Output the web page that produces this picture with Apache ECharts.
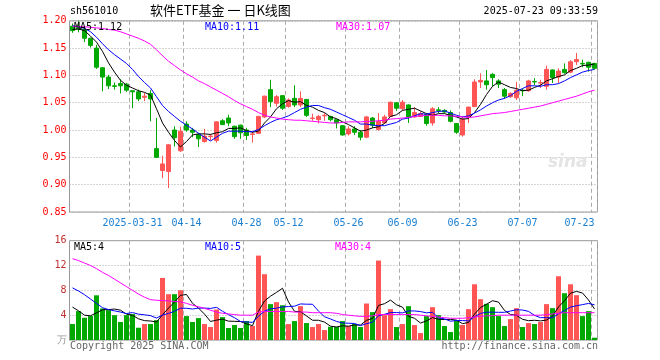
<!DOCTYPE html>
<html>
<head>
<meta charset="utf-8">
<script src="https://cdn.jsdelivr.net/npm/echarts@6/dist/echarts.min.js"></script>
<style>
html,body{margin:0;padding:0;background:#fff;}
#c{width:660px;height:360px;}
</style>
</head>
<body>
<div id="c"></div>
<script>
const dates = [
'2025-03-17','2025-03-18','2025-03-19','2025-03-20','2025-03-21','2025-03-24','2025-03-25','2025-03-26','2025-03-27','2025-03-28',
'2025-03-31','2025-04-01','2025-04-02','2025-04-03','2025-04-07','2025-04-08','2025-04-09','2025-04-10','2025-04-11','2025-04-14',
'2025-04-15','2025-04-16','2025-04-17','2025-04-18','2025-04-21','2025-04-22','2025-04-23','2025-04-24','2025-04-25','2025-04-28',
'2025-04-29','2025-04-30','2025-05-06','2025-05-07','2025-05-08','2025-05-09','2025-05-12','2025-05-13','2025-05-14','2025-05-15',
'2025-05-16','2025-05-19','2025-05-20','2025-05-21','2025-05-22','2025-05-23','2025-05-26','2025-05-27','2025-05-28','2025-05-29',
'2025-05-30','2025-06-03','2025-06-04','2025-06-05','2025-06-06','2025-06-09','2025-06-10','2025-06-11','2025-06-12','2025-06-13',
'2025-06-16','2025-06-17','2025-06-18','2025-06-19','2025-06-20','2025-06-23','2025-06-24','2025-06-25','2025-06-26','2025-06-27',
'2025-06-30','2025-07-01','2025-07-02','2025-07-03','2025-07-04','2025-07-07','2025-07-08','2025-07-09','2025-07-10','2025-07-11',
'2025-07-14','2025-07-15','2025-07-16','2025-07-17','2025-07-18','2025-07-21','2025-07-22','2025-07-23'];

const labelDates = ['2025-03-31','2025-04-14','2025-04-28','2025-05-12','2025-05-26','2025-06-09','2025-06-23','2025-07-07','2025-07-23'];

const open = [
1.190,1.188,1.184,1.168,1.150,1.114,1.097,1.081,1.085,1.084,
1.072,1.070,1.060,1.067,0.966,0.926,0.924,1.000,0.962,1.011,
1.000,0.992,0.979,0.988,0.981,1.017,1.022,1.007,1.009,1.000,
0.992,0.994,1.024,1.074,1.049,1.063,1.043,1.058,1.046,1.056,
1.021,1.019,1.026,1.025,1.019,1.008,0.993,1.002,0.996,0.987,
1.022,1.001,1.013,1.025,1.050,1.039,1.046,1.024,1.025,1.029,
1.013,1.037,1.036,1.032,1.012,0.991,1.024,1.043,1.088,1.090,
1.102,1.090,1.074,1.061,1.059,1.073,1.072,1.089,1.086,1.080,
1.110,1.097,1.111,1.106,1.125,1.122,1.124,1.122];
const close = [
1.182,1.185,1.168,1.155,1.115,1.097,1.081,1.080,1.081,1.073,
1.070,1.057,1.062,1.057,0.950,0.938,0.973,0.986,0.998,1.000,
0.996,0.984,0.989,0.989,1.015,1.010,1.013,0.988,0.995,0.990,
0.993,1.025,1.062,1.052,1.061,1.040,1.055,1.046,1.058,1.027,
1.022,1.025,1.027,1.019,1.013,0.991,1.002,0.996,0.987,1.024,
1.009,1.016,1.024,1.051,1.040,1.051,1.024,1.032,1.030,1.012,
1.039,1.036,1.033,1.016,0.996,1.020,1.042,1.088,1.091,1.083,
1.096,1.084,1.062,1.067,1.073,1.072,1.090,1.088,1.087,1.111,
1.096,1.108,1.105,1.125,1.129,1.121,1.115,1.113];
const low = [
1.178,1.179,1.161,1.151,1.112,1.071,1.075,1.074,1.067,1.070,
1.040,1.053,1.053,1.016,0.949,0.912,0.894,0.970,0.960,0.997,
0.987,0.969,0.977,0.981,0.977,1.009,1.007,0.984,0.984,0.982,
0.977,0.993,1.022,1.042,1.043,1.037,1.041,1.042,1.042,1.024,
1.017,1.012,1.017,1.016,1.003,0.990,0.990,0.991,0.981,0.985,
1.004,0.999,1.012,1.024,1.035,1.036,1.013,1.023,1.024,1.008,
1.008,1.031,1.031,1.014,0.993,0.988,1.013,1.042,1.077,1.074,
1.080,1.077,1.057,1.059,1.055,1.062,1.070,1.082,1.077,1.074,
1.086,1.086,1.103,1.104,1.119,1.115,1.107,1.111];
const high = [
1.195,1.200,1.187,1.169,1.156,1.115,1.101,1.087,1.093,1.086,
1.073,1.074,1.068,1.073,1.022,0.953,0.974,1.007,1.006,1.016,
1.004,0.995,1.002,0.993,1.016,1.020,1.028,1.008,1.010,1.004,
0.997,1.026,1.063,1.092,1.064,1.064,1.058,1.082,1.071,1.057,
1.030,1.028,1.031,1.026,1.019,1.009,1.007,1.007,1.000,1.026,
1.024,1.031,1.028,1.052,1.051,1.055,1.047,1.042,1.034,1.030,
1.042,1.042,1.038,1.036,1.012,1.025,1.043,1.093,1.104,1.110,
1.104,1.093,1.077,1.069,1.088,1.076,1.092,1.095,1.092,1.118,
1.111,1.113,1.122,1.128,1.141,1.129,1.125,1.123];

const ma5 = [
1.184,1.185,1.182,1.172,1.161,1.144,1.123,1.106,1.091,1.082,
1.077,1.072,1.069,1.064,1.039,1.013,0.996,0.981,0.969,0.979,
0.991,0.993,0.993,0.992,0.995,0.997,1.003,1.003,1.004,0.999,
0.996,0.998,1.013,1.024,1.039,1.048,1.054,1.051,1.052,1.045,
1.042,1.036,1.032,1.024,1.021,1.015,1.010,1.004,0.998,1.000,
1.004,1.006,1.012,1.025,1.028,1.036,1.038,1.040,1.035,1.030,
1.027,1.030,1.030,1.027,1.024,1.020,1.021,1.032,1.047,1.065,
1.080,1.088,1.083,1.078,1.076,1.072,1.073,1.078,1.082,1.090,
1.094,1.098,1.101,1.109,1.113,1.118,1.119,1.121];
const ma10 = [
1.191,1.189,1.186,1.180,1.170,1.158,1.147,1.138,1.130,1.122,
1.111,1.098,1.087,1.077,1.061,1.045,1.034,1.025,1.016,1.009,
1.002,0.994,0.987,0.980,0.987,0.994,0.998,0.998,0.998,0.997,
0.997,1.001,1.008,1.014,1.019,1.022,1.026,1.032,1.038,1.042,
1.045,1.045,1.041,1.038,1.033,1.028,1.023,1.018,1.011,1.011,
1.009,1.008,1.008,1.011,1.014,1.020,1.022,1.026,1.030,1.029,
1.032,1.034,1.035,1.031,1.027,1.024,1.026,1.031,1.037,1.044,
1.050,1.055,1.058,1.063,1.071,1.076,1.081,1.081,1.080,1.083,
1.083,1.085,1.090,1.096,1.101,1.106,1.109,1.111];
const ma30 = [
1.190,1.189,1.189,1.188,1.187,1.186,1.184,1.183,1.180,1.176,
1.172,1.168,1.163,1.157,1.147,1.136,1.126,1.118,1.110,1.103,
1.097,1.090,1.085,1.079,1.073,1.067,1.061,1.054,1.048,1.043,
1.038,1.032,1.027,1.024,1.022,1.020,1.019,1.018,1.018,1.017,
1.016,1.015,1.014,1.013,1.013,1.014,1.015,1.015,1.015,1.016,
1.016,1.017,1.018,1.020,1.021,1.022,1.023,1.025,1.026,1.027,
1.027,1.027,1.026,1.026,1.025,1.024,1.023,1.024,1.026,1.028,
1.030,1.031,1.032,1.034,1.036,1.038,1.040,1.042,1.044,1.047,
1.050,1.053,1.056,1.059,1.062,1.066,1.070,1.073];

const volume = [
2.57,4.65,3.58,3.85,7.2,5.08,4.81,4.0,2.9,4.0,
4.17,1.98,2.57,2.57,3.2,10.0,7.38,7.38,8.02,3.85,
2.9,3.53,2.57,2.09,4.92,3.69,1.93,2.41,1.93,3.05,
2.25,13.6,10.6,5.78,6.1,5.6,2.57,3.05,5.45,2.73,
2.09,2.57,1.6,2.14,2.1,3.05,2.25,2.57,2.09,5.88,
4.49,12.8,4.0,4.97,2.09,2.57,5.45,2.41,1.12,3.85,
5.29,4.0,2.25,1.28,3.2,2.41,4.97,8.98,6.58,5.83,
5.29,3.85,2.25,3.37,5.13,2.09,2.73,2.57,2.89,5.78,
5.13,10.27,7.54,8.98,7.22,3.85,4.65,0.37];
const volMa5 = [
5.3,4.7,4.0,3.9,4.37,4.87,4.90,4.99,4.80,4.16,
3.98,3.41,3.12,3.06,2.90,4.06,5.14,6.11,7.20,7.33,
5.91,5.14,4.17,2.99,3.20,3.36,3.04,3.01,2.98,2.60,
2.31,4.65,6.29,7.06,7.67,8.34,6.13,4.62,4.55,3.88,
3.18,3.18,2.89,2.23,2.10,2.29,2.23,2.42,2.41,3.17,
3.46,5.57,5.85,6.43,5.67,5.29,3.82,3.50,2.73,3.08,
3.62,3.33,3.30,3.33,3.20,2.63,2.82,4.17,5.23,5.75,
6.33,6.11,4.76,4.12,3.98,3.34,3.11,3.18,3.08,3.21,
3.82,5.33,6.32,7.54,7.83,7.57,6.45,5.01];
const volMa10 = [
8.4,7.9,7.3,6.6,5.9,5.2,4.9,4.7,4.5,4.26,
4.42,4.16,4.06,3.93,3.53,4.02,4.28,4.62,5.13,5.11,
4.99,5.14,5.14,5.09,5.26,4.63,4.09,3.59,2.98,2.90,
2.84,3.84,4.65,5.02,5.13,5.33,5.39,5.45,5.81,5.77,
5.76,4.65,3.75,3.39,2.99,2.74,2.70,2.66,2.32,2.63,
2.87,3.90,4.14,4.42,4.42,4.37,4.69,4.68,4.58,4.38,
4.46,3.58,3.40,3.03,3.14,3.13,3.08,3.74,4.28,4.48,
4.48,4.46,4.46,4.67,4.87,4.83,4.61,3.97,3.60,3.60,
3.58,4.22,4.75,5.31,5.52,5.70,5.89,5.67];
const volMa30 = [
13.1,12.8,12.4,12.0,11.5,10.9,10.4,9.8,9.2,8.6,
8.0,7.4,6.9,6.5,6.4,6.35,6.3,6.2,6.15,5.9,
5.6,5.35,5.1,4.8,4.5,4.3,4.2,4.1,4.0,4.0,
4.0,4.5,4.6,4.6,4.6,4.6,4.6,4.5,4.5,4.5,
4.4,4.4,4.4,4.4,4.3,4.1,4.0,3.9,3.8,3.8,
3.9,4.1,4.1,4.1,4.1,4.1,4.1,4.1,4.0,3.9,
3.8,3.7,3.6,3.5,3.5,3.5,3.6,3.7,3.8,3.9,
3.9,4.0,4.0,4.0,4.0,4.0,4.0,4.0,4.0,4.1,
4.2,4.3,4.4,4.4,4.4,4.4,4.4,4.4];

const priceTicks = [0.85, 1.20, 0.05];
const volTicks = [0, 16, 4];

const UP = '#ff5555', DOWN = '#00a800';
const MONO = 'DejaVu Sans Mono';

const candleData = dates.map((d, i) => [open[i], close[i], low[i], high[i]]);
const volData = volume.map((v, i) => ({
  value: v,
  itemStyle: { color: close[i] >= open[i] ? UP : DOWN }
}));
const showIdx = (i) => labelDates.indexOf(dates[i]) >= 0;

const chart = echarts.init(document.getElementById('c'), null, { renderer: 'canvas' });

const gridStyle = { show: true, borderColor: '#999', borderWidth: 1, backgroundColor: 'transparent' };
const vSplit = {
  show: true,
  interval: (i) => showIdx(i),
  lineStyle: { color: '#aaa', type: [4, 3], width: 1 }
};
const hSplit = { show: true, lineStyle: { color: '#aaa', type: [1, 2], width: 1 } };
const lineSeries = (name, data, color, xi, yi) => ({
  name, type: 'line', data, xAxisIndex: xi, yAxisIndex: yi,
  symbol: 'none', smooth: false, silent: true, z: 5,
  lineStyle: { color, width: 1 }
});

chart.setOption({
  animation: false,
  backgroundColor: '#fff',
  grid: [
    Object.assign({ left: 69.5, width: 528, top: 20.8, height: 191.2 }, gridStyle),
    Object.assign({ left: 69.5, width: 528, top: 240.7, height: 99.3 }, gridStyle)
  ],
  xAxis: [
    {
      type: 'category', data: dates, gridIndex: 0, boundaryGap: true,
      axisLine: { show: false }, axisTick: { show: false },
      axisLabel: {
        show: true, interval: (i) => showIdx(i), margin: 6,
        color: '#1a7fd0', fontFamily: MONO, fontSize: 10,
        formatter: (v, i) => (v === '2025-03-31' ? v : v.slice(5)),
        alignMaxLabel: 'right', showMaxLabel: true
      },
      splitLine: vSplit
    },
    {
      type: 'category', data: dates, gridIndex: 1, boundaryGap: true,
      axisLine: { show: false }, axisTick: { show: false }, axisLabel: { show: false },
      splitLine: vSplit
    }
  ],
  yAxis: [
    {
      type: 'value', gridIndex: 0, min: priceTicks[0], max: priceTicks[1], interval: priceTicks[2],
      axisLine: { show: false }, axisTick: { show: false },
      axisLabel: { color: '#ff0000', fontFamily: MONO, fontSize: 10, margin: 3, formatter: (v) => v.toFixed(2) },
      splitLine: hSplit
    },
    {
      type: 'value', gridIndex: 1, min: volTicks[0], max: volTicks[1], interval: volTicks[2],
      axisLine: { show: false }, axisTick: { show: false },
      axisLabel: {
        fontFamily: MONO, fontSize: 10, margin: 3,
        color: (v) => (Number(v) === 0 ? '#999' : '#c03030'),
        formatter: (v) => (v === 0 ? '万' : String(v))
      },
      splitLine: hSplit
    }
  ],
  series: [
    {
      type: 'candlestick', name: 'K', data: candleData, xAxisIndex: 0, yAxisIndex: 0,
      barWidth: 4, silent: true, z: 3,
      itemStyle: { color: UP, color0: DOWN, borderColor: UP, borderColor0: DOWN, borderWidth: 1 }
    },
    lineSeries('MA5', ma5, '#000000', 0, 0),
    lineSeries('MA10', ma10, '#0000ff', 0, 0),
    lineSeries('MA30', ma30, '#ff00ff', 0, 0),
    {
      type: 'bar', name: 'VOL', data: volData, xAxisIndex: 1, yAxisIndex: 1,
      barWidth: 5, silent: true, z: 3
    },
    lineSeries('VMA5', volMa5, '#000000', 1, 1),
    lineSeries('VMA10', volMa10, '#0000ff', 1, 1),
    lineSeries('VMA30', volMa30, '#ff00ff', 1, 1)
  ],
  graphic: [
    { type: 'text', left: 70, top: 6, style: { text: 'sh561010', font: '10px ' + MONO, fill: '#000' } },
    { type: 'text', left: 150, top: 4, style: { text: '软件ETF基金 一 日K线图', font: '13px "Noto Sans CJK SC"', fill: '#000' } },
    { type: 'text', right: 62, top: 6, style: { text: '2025-07-23 09:33:59', font: '10px ' + MONO, fill: '#000' } },
    { type: 'text', left: 74, top: 22, z: 10, style: { text: 'MA5:1.12', font: '10px ' + MONO, fill: '#000' } },
    { type: 'text', left: 205, top: 22, z: 10, style: { text: 'MA10:1.11', font: '10px ' + MONO, fill: '#0000ff' } },
    { type: 'text', left: 336, top: 22, z: 10, style: { text: 'MA30:1.07', font: '10px ' + MONO, fill: '#ff00ff' } },
    { type: 'text', left: 74, top: 242, z: 10, style: { text: 'MA5:4', font: '10px ' + MONO, fill: '#000' } },
    { type: 'text', left: 205, top: 242, z: 10, style: { text: 'MA10:5', font: '10px ' + MONO, fill: '#0000ff' } },
    { type: 'text', left: 335, top: 242, z: 10, style: { text: 'MA30:4', font: '10px ' + MONO, fill: '#ff00ff' } },
    { type: 'text', left: 70, top: 341, style: { text: 'Copyright 2025 SINA.COM', font: '10px ' + MONO, fill: '#666' } },
    { type: 'text', right: 62, top: 341, style: { text: 'http://finance.sina.com.cn', font: '10px ' + MONO, fill: '#666' } },
    { type: 'text', left: 548, top: 154, z: 1, style: { text: 'sina', font: 'italic bold 17px "DejaVu Sans"', fill: '#e4e4e4' } }
  ]
});
</script>
</body>
</html>
